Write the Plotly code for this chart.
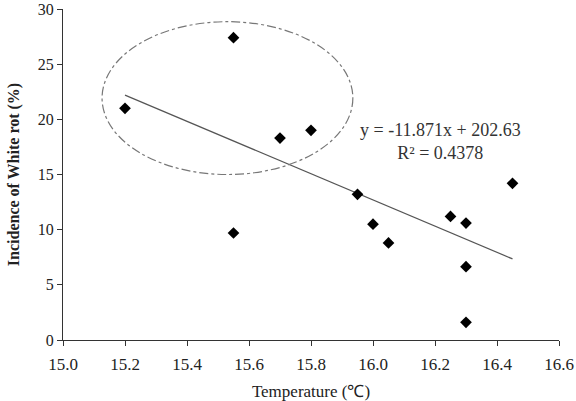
import plotly.graph_objects as go

temperature = [15.2, 15.55, 15.7, 15.8, 15.95, 15.55, 16.0, 16.05, 16.45, 16.25, 16.3, 16.3, 16.3]
incidence = [21.0, 27.4, 18.3, 19.0, 13.2, 9.7, 10.5, 8.8, 14.2, 11.2, 10.6, 6.65, 1.6]

slope = -11.871
intercept = 202.63
fit_x = [min(temperature), max(temperature)]
fit_y = [slope * x + intercept for x in fit_x]

x_ticks = [15.0, 15.2, 15.4, 15.6, 15.8, 16.0, 16.2, 16.4, 16.6]
y_ticks = [0, 5, 10, 15, 20, 25, 30]

font_family = "Liberation Serif, Times New Roman, serif"

fig = go.Figure()
fig.add_trace(go.Scatter(x=fit_x, y=fit_y, mode="lines",
                         line=dict(color="#555555", width=1.2), showlegend=False,
                         hoverinfo="skip"))
fig.add_trace(go.Scatter(x=temperature, y=incidence, mode="markers",
                         marker=dict(symbol="diamond", size=9, color="black"),
                         showlegend=False))

fig.add_shape(type="circle", xref="x", yref="y",
              x0=15.126, x1=15.935, y0=15.0, y1=28.85,
              line=dict(color="#777777", width=1.2, dash="dashdot"))

fig.add_annotation(x=16.219, y=18.0, xref="x", yref="y",
                   text="y = -11.871x + 202.63<br>R² = 0.4378",
                   showarrow=False, align="center",
                   font=dict(family=font_family, size=18, color="#333333"))

fig.update_layout(
    width=576, height=401,
    margin=dict(l=63, r=17, t=9, b=61),
    paper_bgcolor="white", plot_bgcolor="white",
    font=dict(family=font_family, size=17, color="#222222"),
)
fig.update_xaxes(range=[15.0, 16.6], tickvals=x_ticks,
                 ticktext=[f"{v:.1f}" for v in x_ticks],
                 showgrid=False, zeroline=False, automargin=False,
                 showline=True, linecolor="#333333", linewidth=1.2,
                 ticks="outside", ticklen=5, tickcolor="#333333",
                 ticklabelstandoff=3, ticklabeloverflow="allow",
                 tickfont=dict(family=font_family, size=17, color="#222222"),
                 title=dict(text="Temperature (℃)", standoff=14,
                            font=dict(family=font_family, size=17, color="#222222")))
fig.update_yaxes(range=[0, 30], tickvals=y_ticks,
                 showgrid=False, zeroline=False, automargin=False,
                 showline=True, linecolor="#333333", linewidth=1.2,
                 ticks="outside", ticklen=5, tickcolor="#333333",
                 ticklabeloverflow="allow",
                 tickfont=dict(family=font_family, size=16, color="#222222"),
                 title=dict(text="<b>Incidence of White rot (%)</b>", standoff=14,
                            font=dict(family=font_family, size=16, color="#222222")))

fig.write_html("out.html")
